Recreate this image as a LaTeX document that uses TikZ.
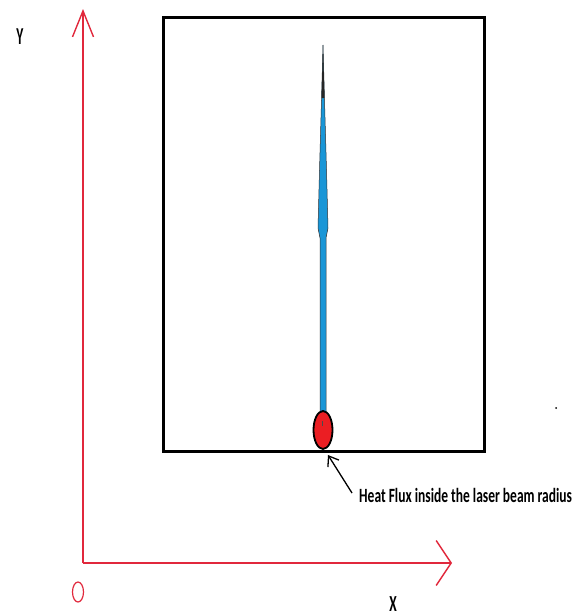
\documentclass[tikz,border=0pt]{standalone}
\usepackage{fontspec}
\newfontfamily\calfont{Carlito}
\usetikzlibrary{arrows.meta, positioning}

\definecolor{axisred}{RGB}{225,40,60}
\definecolor{needleblue}{RGB}{25,150,215}
\definecolor{spotred}{RGB}{235,30,35}

\newcommand{\tallText}[2]{\scalebox{1}[#1]{#2}}

\begin{document}
\begin{tikzpicture}[
  x=1pt, y=-1pt,
  axis/.style={axisred, line width=1.4pt},
  lbl/.style={font=\calfont\bfseries\fontsize{13.5}{15}\selectfont, inner sep=0pt},
  plate/.style={draw, line width=3pt},
  ptr/.style={{Straight Barb[length=9pt, width=13pt]}-, line width=1.3pt},
]
\useasboundingbox (0,0) rectangle (579,616);

% axes
\draw[axis, -{Straight Barb[length=26pt, width=21pt]}] (83,563) -- (83,9);
\draw[axis, -{Straight Barb[length=15pt, width=45pt]}] (83,563) -- (452,563);
\draw[axisred, line width=1.2pt] (78,592) ellipse [x radius=5.5, y radius=10];
\node[lbl] (ylab) at (20,37) {\tallText{1.8}{Y}};
\node[lbl] (xlab) at (393,604) {\tallText{1.7}{X}};

% plate
\draw[plate] (163,17) rectangle (484,451);

% needle
\filldraw[fill=needleblue, draw=black!80, line width=0.5pt]
  (323,45) -- (324.5,100) -- (326.5,170) -- (328,228) -- (326,238)
  -- (326,414) -- (320,414) -- (320,238) -- (318,228) -- (319.5,170)
  -- (321.5,100) -- cycle;
\fill[black!85] (323,45) -- (324.5,98) -- (321.5,98) -- cycle;

% laser spot
\filldraw[fill=spotred, draw=black, line width=1.8pt] (323,430) ellipse [x radius=9.5, y radius=19];
\draw[black!70, line width=0.8pt] (322,421) -- (322,426);
\coordinate (spot) at (328,455);
\coordinate (tail) at (352,493);

\node[lbl, anchor=west] (flux) at (359,495) {\tallText{1.5}{Heat Flux inside the laser beam radius}};
\draw[ptr] (spot) -- (tail);

\fill (556,408) circle (1pt);
\end{tikzpicture}
\end{document}
